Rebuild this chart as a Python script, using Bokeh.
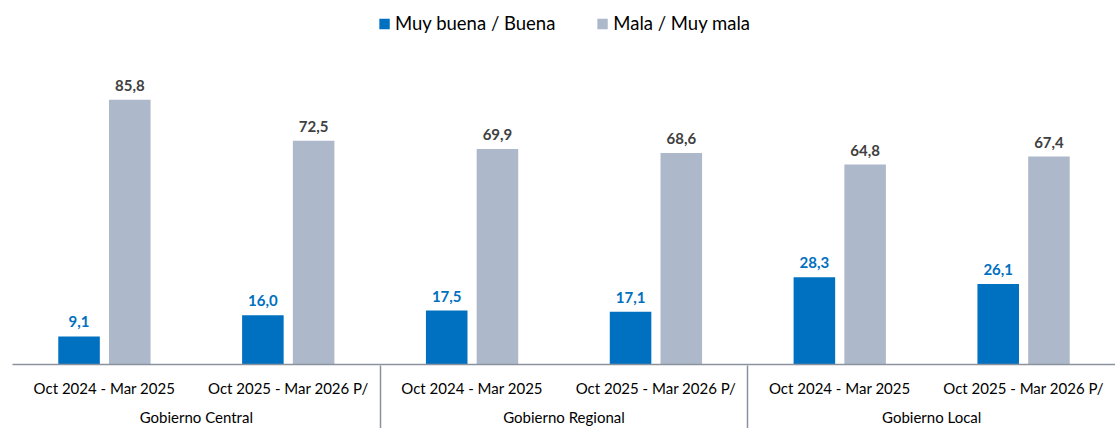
from bokeh.plotting import figure
from bokeh.models import (FactorRange, Range1d, CategoricalAxis, Legend, LegendItem,
                          ColumnDataSource)
from bokeh.transform import dodge
from bokeh.core.properties import value
from bokeh.embed import file_html
from bokeh.resources import INLINE

# ---- data ----
groups = ["Gobierno Central", "Gobierno Regional", "Gobierno Local"]
periods = ["Oct 2024 - Mar 2025", "Oct 2025 - Mar 2026 P/"]
series_names = ["Muy buena / Buena", "Mala / Muy mala"]
buena = [9.1, 16.0, 17.5, 17.1, 28.3, 26.1]
mala = [85.8, 72.5, 69.9, 68.6, 64.8, 67.4]

FONT = "Lato"
BLUE = "#0070C0"
GREY = "#ADB9CA"
LINE = "#8A929E"

x = [(g, per) for g in groups for per in periods]
fmt = lambda v: f"{v:.1f}".replace(".", ",")
src = ColumnDataSource(dict(
    x=x, buena=buena, mala=mala,
    buena_lbl=[fmt(v) for v in buena],
    mala_lbl=[fmt(v) for v in mala],
))

xr = FactorRange(factors=x, factor_padding=0, subgroup_padding=0,
                 group_padding=0, range_padding=0)
p = figure(x_range=xr, y_range=Range1d(0, 118), width=1115, height=428,
           output_backend="svg", toolbar_location=None,
           min_border_left=12, min_border_right=0, min_border_top=0,
           min_border_bottom=0)

off = 0.138
bw = 0.226
r1 = p.vbar(x=dodge("x", -off, range=p.x_range), top="buena", width=bw,
            source=src, fill_color=BLUE, line_color=None)
r2 = p.vbar(x=dodge("x", off, range=p.x_range), top="mala", width=bw,
            source=src, fill_color=GREY, line_color=None)

p.text(x=dodge("x", -off, range=p.x_range), y="buena", text="buena_lbl",
       source=src, text_align="center", text_baseline="bottom", y_offset=-9,
       text_font=value(FONT), text_font_style="bold", text_font_size="15px",
       text_color=BLUE)
p.text(x=dodge("x", off, range=p.x_range), y="mala", text="mala_lbl",
       source=src, text_align="center", text_baseline="bottom", y_offset=-9,
       text_font=value(FONT), text_font_style="bold", text_font_size="15px",
       text_color="#404040")

legend = Legend(items=[LegendItem(label=series_names[0], renderers=[r1]),
                       LegendItem(label=series_names[1], renderers=[r2])],
                location="top_center", orientation="horizontal",
                margin=12, padding=2, spacing=40, glyph_width=13, glyph_height=13,
                label_standoff=5, label_text_font=FONT,
                label_text_font_size="18.5px", label_text_color="#000000",
                background_fill_alpha=0, border_line_color=None)
p.add_layout(legend)

ax = p.xaxis[0]
ax.axis_line_color = LINE
ax.axis_line_width = 1.5
ax.major_tick_line_color = None
ax.minor_tick_line_color = None
ax.separator_line_color = None
ax.major_label_standoff = 8
ax.major_label_text_font = FONT
ax.major_label_text_font_size = "15px"
ax.major_label_text_color = "#000000"
ax.group_text_font = FONT
ax.group_text_font_size = "15px"
ax.group_text_font_style = "normal"
ax.group_text_color = "#000000"

# vertical lines of the category table: ticks of a helper categorical axis whose
# factors fall on the group boundaries (synthetic 0, 2, 4, 6 of the main range)
box_factors = ["b0", "b1", "b2", "b3"]
p.extra_x_ranges = {"box": FactorRange(factors=box_factors, factor_padding=1,
                                       range_padding=-0.5,
                                       range_padding_units="absolute")}
bax = CategoricalAxis(x_range_name="box",
                      major_label_text_font_size="1px", major_label_standoff=0,
                      major_label_text_color=None,
                      major_tick_in=63, major_tick_out=0, axis_line_color=None,
                      minor_tick_line_color=None, major_tick_line_color=LINE,
                      major_tick_line_width=1.5)
p.add_layout(bax, "below")

p.yaxis.visible = False
p.xgrid.visible = False
p.ygrid.visible = False
p.outline_line_color = None

open("out.html", "w").write(file_html(p, INLINE))
